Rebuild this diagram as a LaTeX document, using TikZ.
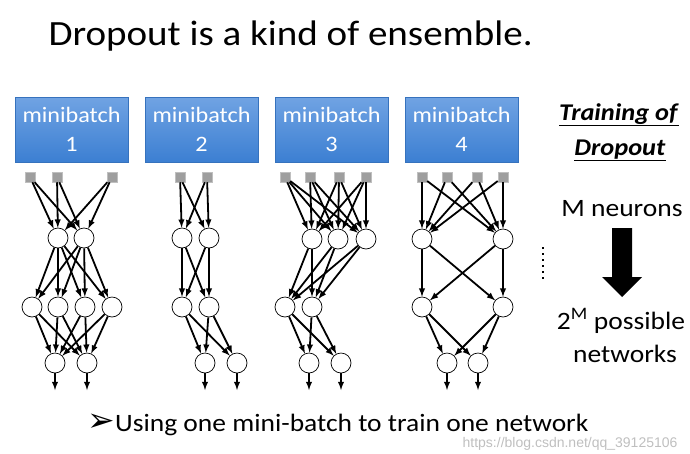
\documentclass[tikz,border=0pt]{standalone}
\usepackage{fontspec}
\setmainfont[FakeStretch=1.1]{Carlito}
\newfontfamily\dejavu{DejaVu Sans}
\newfontfamily\wmfont{Liberation Sans}
\usetikzlibrary{arrows}

\definecolor{batchtop}{RGB}{112,163,227}
\definecolor{batchbot}{RGB}{60,127,210}

\tikzset{
  batch/.style={rectangle, top color=batchtop, bottom color=batchbot, draw=batchbot!90!black, line width=0.4pt,
    minimum width=113pt, minimum height=65pt, align=center, text=white, font=\fontsize{22}{29}\selectfont},
  unit/.style={circle, draw, fill=white, line width=0.7pt, minimum size=20pt, inner sep=0pt},
  inp/.style={rectangle, fill=black!38, draw=black!25, line width=0.5pt, minimum size=10pt, inner sep=0pt},
  link/.style={-latex, line width=1.8pt},
  side/.style={font=\fontsize{25}{33}\selectfont}
}

\begin{document}
\begin{tikzpicture}[x=1pt, y=-1pt]
\useasboundingbox (0,0) rectangle (690,453);

\node[anchor=base west, font=\fontsize{35.5}{42}\selectfont] (title) at (45,45) {Dropout is a kind of ensemble.};

\node[batch] (mb1) at (71.5,129.5) {minibatch\\1};
\node[batch] (mb2) at (201.5,129.5) {minibatch\\2};
\node[batch] (mb3) at (331.5,129.5) {minibatch\\3};
\node[batch] (mb4) at (461.5,129.5) {minibatch\\4};

% network 1
\node[inp] (ax1) at (30,177) {};
\node[inp] (ax2) at (57,177) {};
\node[inp] (ax3) at (112,177) {};
\node[unit] (ah1) at (58,238) {};
\node[unit] (ah2) at (84,238) {};
\node[unit] (ag1) at (32,307) {};
\node[unit] (ag2) at (58,307) {};
\node[unit] (ag3) at (85,307) {};
\node[unit] (ag4) at (112,307) {};
\node[unit] (ay1) at (55,363) {};
\node[unit] (ay2) at (87,363) {};

\draw[link] (ax1) edge (ah1) edge (ah2);
\draw[link] (ax2) edge (ah1) edge (ah2);
\draw[link] (ax3) edge (ah1) edge (ah2);
\draw[link] (ah1) edge (ag1) edge (ag2) edge (ag3) edge (ag4);
\draw[link] (ah2) edge (ag1) edge (ag2) edge (ag3) edge (ag4);
\draw[link] (ag1) edge (ay1) edge (ay2);
\draw[link] (ag2) edge (ay1) edge (ay2);
\draw[link] (ag3) edge (ay1) edge (ay2);
\draw[link] (ag4) edge (ay1) edge (ay2);
\draw[link] (ay1) -- ++(0,27);
\draw[link] (ay2) -- ++(0,27);

% network 2
\node[inp] (bx1) at (180,177) {};
\node[inp] (bx2) at (207,177) {};
\node[unit] (bh1) at (182,238) {};
\node[unit] (bh2) at (209,238) {};
\node[unit] (bg1) at (182,307) {};
\node[unit] (bg2) at (209,307) {};
\node[unit] (by1) at (205,363) {};
\node[unit] (by2) at (237,363) {};

\draw[link] (bx1) edge (bh1) edge (bh2);
\draw[link] (bx2) edge (bh1) edge (bh2);
\draw[link] (bh1) edge (bg1) edge (bg2);
\draw[link] (bh2) edge (bg1) edge (bg2);
\draw[link] (bg1) edge (by1) edge (by2);
\draw[link] (bg2) edge (by1) edge (by2);
\draw[link] (by1) -- ++(0,27);
\draw[link] (by2) -- ++(0,27);

% network 3
\node[inp] (cx1) at (285,177) {};
\node[inp] (cx2) at (310,177) {};
\node[inp] (cx3) at (339,177) {};
\node[inp] (cx4) at (366,177) {};
\node[unit] (ch1) at (312,239) {};
\node[unit] (ch2) at (338,239) {};
\node[unit] (ch3) at (366,239) {};
\node[unit] (cg1) at (285,307) {};
\node[unit] (cg2) at (312,307) {};
\node[unit] (cy1) at (309,363) {};
\node[unit] (cy2) at (341,363) {};

\draw[link] (cx1) edge (ch1) edge (ch2) edge (ch3);
\draw[link] (cx2) edge (ch1) edge (ch2) edge (ch3);
\draw[link] (cx3) edge (ch1) edge (ch2) edge (ch3);
\draw[link] (cx4) edge (ch1) edge (ch2) edge (ch3);
\draw[link] (ch1) edge (cg1) edge (cg2);
\draw[link] (ch2) edge (cg1) edge (cg2);
\draw[link] (ch3) edge (cg1) edge (cg2);
\draw[link] (cg1) edge (cy1) edge (cy2);
\draw[link] (cg2) edge (cy1) edge (cy2);
\draw[link] (cy1) -- ++(0,27);
\draw[link] (cy2) -- ++(0,27);

% network 4
\node[inp] (dx1) at (422,177) {};
\node[inp] (dx2) at (447,177) {};
\node[inp] (dx3) at (477,177) {};
\node[inp] (dx4) at (503,177) {};
\node[unit] (dh1) at (422,239) {};
\node[unit] (dh2) at (503,239) {};
\node[unit] (dg1) at (422,307) {};
\node[unit] (dg2) at (503,307) {};
\node[unit] (dy1) at (447,363) {};
\node[unit] (dy2) at (478,363) {};

\draw[link] (dx1) edge (dh1) edge (dh2);
\draw[link] (dx2) edge (dh1) edge (dh2);
\draw[link] (dx3) edge (dh1) edge (dh2);
\draw[link] (dx4) edge (dh1) edge (dh2);
\draw[link] (dh1) edge (dg1) edge (dg2);
\draw[link] (dh2) edge (dg1) edge (dg2);
\draw[link] (dg1) edge (dy1) edge (dy2);
\draw[link] (dg2) edge (dy1) edge (dy2);
\draw[link] (dy1) -- ++(0,27);
\draw[link] (dy2) -- ++(0,27);

\draw[line width=2.2pt, dash pattern=on 2.2pt off 3.8pt] (543,247) -- (543,281);

% right side
\node[anchor=base, font=\fontsize{24}{30}\selectfont] (tr1) at (619,120) {\underline{\textbf{\textit{Training of}}}};
\node[anchor=base, font=\fontsize{24}{30}\selectfont] (tr2) at (620,155) {\underline{\textbf{\textit{Dropout}}}};
\node[side, anchor=base] (neur) at (622,216) {M neurons};
\fill (612,228) -- (632,228) -- (632,277) -- (642,277) -- (622,297) -- (602,277) -- (612,277) -- cycle;
\node[side, anchor=base] (poss) at (621,329) {2\textsuperscript{M} possible};
\node[side, anchor=base] (netw) at (625,362) {networks};

\node[anchor=base west, font=\fontsize{25}{30}\selectfont] (note) at (84,431) {{\dejavu\fontsize{33}{30}\selectfont ➢}Using one mini-batch to train one network};
\node[anchor=base east, text=black!25, font=\wmfont\fontsize{14}{16}\selectfont] (wm) at (681,447) {https://blog.csdn.net/qq\_39125106};
\end{tikzpicture}
\end{document}
